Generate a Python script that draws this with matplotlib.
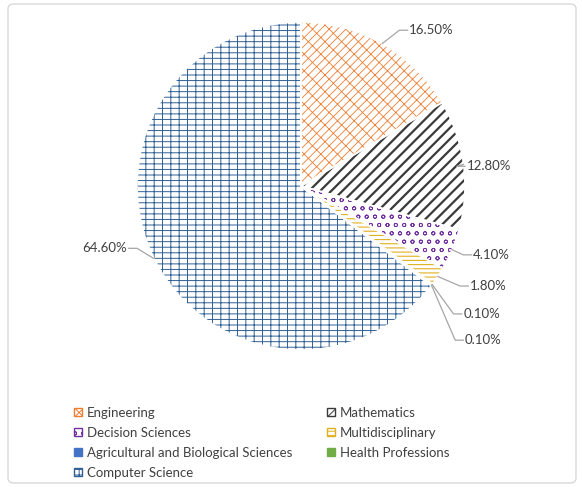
import numpy as np
import matplotlib
matplotlib.use("Agg")
import matplotlib.pyplot as plt
from matplotlib.patches import Patch, FancyBboxPatch

plt.rcParams["font.family"] = ["Lato", "DejaVu Sans"]
plt.rcParams["hatch.linewidth"] = 0.7

categories = ["Engineering", "Mathematics", "Decision Sciences", "Multidisciplinary",
              "Agricultural and Biological Sciences", "Health Professions", "Computer Science"]
shares = [16.5, 12.8, 4.1, 1.8, 0.1, 0.1, 64.6]
labels = ["16.50%", "12.80%", "4.10%", "1.80%", "0.10%", "0.10%", "64.60%"]

colors = ["#ED7D31", "#3A3A3A", "#7030A0", "#E0B020", "#4472C4", "#70AD47", "#2F5F95"]
hatches = ["////\\\\", "///", "oo", "----", None, None, "---||"]
hatch_lw = [0.6, 1.6, 0.6, 0.8, 0.7, 0.7, 0.7]
# text anchor positions for the data labels (axes data units, pie radius = 1)
label_pos = [(0.66, 0.95), (1.01, 0.12), (1.05, -0.42), (1.03, -0.61),
             (0.99, -0.78), (1.00, -0.94), (-1.06, -0.38)]

W, H = 582, 487
fig = plt.figure(figsize=(W / 100, H / 100), dpi=100)
# one unit of data = pie radius in pixels
R, cx, cy = 164, 301, 186
ax = fig.add_axes([0, 0, 1, 1])

wedges, _ = ax.pie(shares, startangle=90, counterclock=False, radius=1,
                   colors=["white"] * len(shares),
                   wedgeprops=dict(linewidth=0))
for w, c, h, lw in zip(wedges, colors, hatches, hatch_lw):
    if h is None:
        w.set_facecolor(c)
        w.set_edgecolor(c)
    else:
        w.set_hatch(h)
        w.set_edgecolor(c)
        if hasattr(w, "set_hatch_linewidth"):
            w.set_hatch_linewidth(lw)
# white separators on top
ax.pie(shares, startangle=90, counterclock=False, radius=1,
       wedgeprops=dict(fill=False, edgecolor="white", linewidth=1.2))

ax.set_aspect("auto")
ax.set_xlim(-cx / R, (W - cx) / R)
ax.set_ylim(-(H - cy) / R, cy / R)
ax.axis("off")

# data labels with leader lines
for w, lab, (tx, ty) in zip(wedges, labels, label_pos):
    ang = np.deg2rad((w.theta1 + w.theta2) / 2)
    ex, ey = np.cos(ang), np.sin(ang)
    if tx > 0:
        elbow = tx - 0.06
        ha = "left"
    else:
        elbow = tx + 0.06
        ha = "right"
    ax.plot([ex, elbow, tx - 0.01 if tx > 0 else tx + 0.01], [ey, ty, ty],
            color="#A6A6A6", linewidth=0.9, zorder=1)
    ax.text(tx, ty, lab, ha=ha, va="center", fontsize=9.5, color="#404040")

# legend, column-wise order
order = [0, 2, 4, 6, 1, 3, 5]
handles = []
for i in order:
    if hatches[i] is None:
        handles.append(Patch(facecolor=colors[i], edgecolor=colors[i], label=categories[i]))
    else:
        handles.append(Patch(facecolor="white", edgecolor=colors[i], hatch=hatches[i],
                             label=categories[i]))
leg = fig.legend(handles=handles, loc="upper left", ncol=2,
                 bbox_to_anchor=(62 / W, 1 - 395 / H), frameon=False,
                 fontsize=9.5, handlelength=0.6, handleheight=0.6, handletextpad=0.4,
                 labelspacing=0.6, columnspacing=2.6)
for t in leg.get_texts():
    t.set_color("#404040")

# chart border
fig.patches.append(FancyBboxPatch((8 / W, 4 / H), 568 / W, 479 / H,
                                  boxstyle="round,pad=0,rounding_size=0.01",
                                  transform=fig.transFigure, fill=False,
                                  edgecolor="#D9D9D9", linewidth=1))

fig.savefig("out.png", dpi=100)
